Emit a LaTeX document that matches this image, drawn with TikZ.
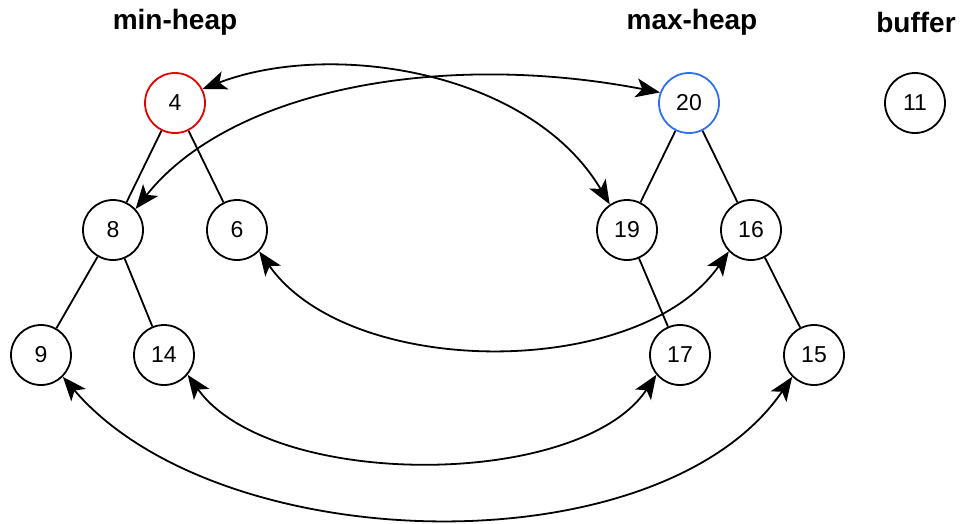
\documentclass[tikz,border=0pt]{standalone}
\usepackage{fontspec}
\setmainfont{Liberation Sans}
\usetikzlibrary{arrows.meta}
\definecolor{rootred}{RGB}{230,0,0}
\definecolor{rootblue}{RGB}{50,110,240}
\tikzset{
  hnode/.style={circle,draw=black,line width=1.8pt,minimum size=60pt,inner sep=0pt,font=\fontsize{23}{23}\selectfont},
  title/.style={font=\fontsize{28}{28}\selectfont\bfseries},
  tedge/.style={line width=1.8pt},
  swap/.style={line width=1.8pt,{Stealth[length=24pt,width=19pt,inset=6pt]}-{Stealth[length=24pt,width=19pt,inset=6pt]}}
}
\begin{document}
\begin{tikzpicture}[x=1pt,y=-1pt]
\useasboundingbox (0,0) rectangle (962,523);
\node[title] (tmin) at (175,22) {min-heap};
\node[title] (tmax) at (692,22) {max-heap};
\node[title] (tbuf) at (916,22) {buffer};

\node[hnode,draw=rootred] (n4) at (175,103) {4};
\node[hnode,draw=rootblue] (n20) at (689,103) {20};
\node[hnode] (n11) at (915,103) {11};
\node[hnode] (n8) at (113,230) {8};
\node[hnode] (n6) at (237,230) {6};
\node[hnode] (n19) at (627,230) {19};
\node[hnode] (n16) at (751,230) {16};
\node[hnode] (n9) at (41,355) {9};
\node[hnode] (n14) at (164,355) {14};
\node[hnode] (n17) at (680,355) {17};
\node[hnode] (n15) at (814,355) {15};

\draw[tedge] (n4) -- (n8);
\draw[tedge] (n4) -- (n6);
\draw[tedge] (n8) -- (n9);
\draw[tedge] (n8) -- (n14);
\draw[tedge] (n20) -- (n19);
\draw[tedge] (n20) -- (n16);
\draw[tedge] (n19) -- (n17);
\draw[tedge] (n16) -- (n15);

\draw[swap] (n4.27) .. controls (330,40) and (530,70) .. (n19.124);
\draw[swap] (n8.43) .. controls (230,90) and (440,50) .. (n20.160);
\draw[swap] (n6.-44) .. controls (350,380) and (640,380) .. (n16.-136);
\draw[swap] (n14.-40) .. controls (270,490) and (580,490) .. (n17.-140);
\draw[swap] (n9.-45) .. controls (220,560) and (660,570) .. (n15.-135);
\end{tikzpicture}
\end{document}
